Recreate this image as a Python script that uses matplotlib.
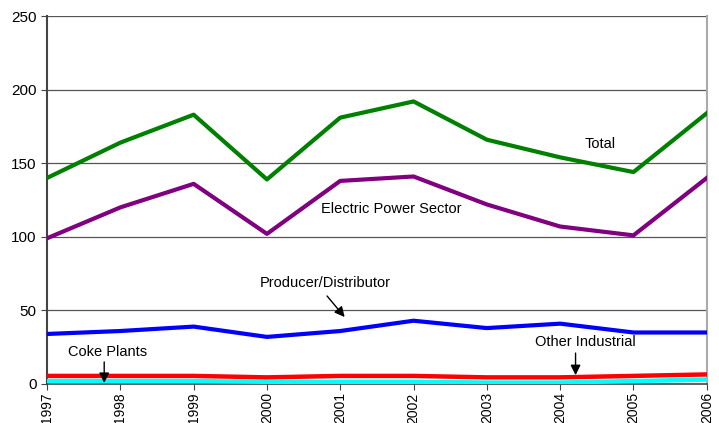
import matplotlib
matplotlib.use("Agg")
import matplotlib.pyplot as plt

years = [1997, 1998, 1999, 2000, 2001, 2002, 2003, 2004, 2005, 2006]
total = [140, 164, 183, 139, 181, 192, 166, 154, 144, 184]
electric_power = [99, 120, 136, 102, 138, 141, 122, 107, 101, 140]
producer_distributor = [34, 36, 39, 32, 36, 43, 38, 41, 35, 35]
other_industrial = [5.5, 5.5, 5.5, 4.5, 5.5, 5.5, 4.5, 4.5, 5.5, 6.5]
coke_plants = [2, 2, 2, 1.5, 1.5, 1.5, 1, 1, 2, 3]

plt.rcParams['font.family'] = ['Liberation Sans', 'DejaVu Sans']

fig = plt.figure(figsize=(7.19, 4.23), dpi=100)
ax = fig.add_axes([0.0654, 0.0922, 0.9176, 0.8698])

for y in [50, 100, 150, 200, 250]:
    ax.axhline(y, color='#555555', lw=0.9, zorder=1)

ax.plot(years, coke_plants, color='#00ffff', lw=3.2, zorder=3)
ax.plot(years, other_industrial, color='#ff0000', lw=3.2, zorder=3)
ax.plot(years, producer_distributor, color='#0000ff', lw=3, zorder=3)
ax.plot(years, electric_power, color='#800080', lw=3, zorder=3)
ax.plot(years, total, color='#008000', lw=3, zorder=3)

ax.set_xlim(1997, 2006)
ax.set_ylim(0, 250)
ax.set_yticks([0, 50, 100, 150, 200, 250])
ax.set_xticks(years)
ax.set_xticklabels([str(y) for y in years], rotation=90, fontsize=10)
ax.tick_params(axis='y', labelsize=11, direction='out', length=4, color='#444444')
ax.tick_params(axis='x', direction='out', length=4, color='#444444', pad=2)

ax.spines['left'].set_color('#444444')
ax.spines['left'].set_linewidth(1.5)
ax.spines['bottom'].set_color('#444444')
ax.spines['bottom'].set_linewidth(1.2)
ax.spines['right'].set_color('#aaaaaa')
ax.spines['right'].set_linewidth(1.5)
ax.spines['top'].set_visible(False)

ax.text(2004.55, 163, 'Total', fontsize=10.5, ha='center', va='center')
ax.text(2000.74, 119, 'Electric Power Sector', fontsize=10.5, ha='left', va='center')
ax.text(2000.79, 68.6, 'Producer/Distributor', fontsize=10.5, ha='center', va='center')
ax.text(1997.83, 21.7, 'Coke Plants', fontsize=10.5, ha='center', va='center')
ax.text(2004.34, 28.5, 'Other Industrial', fontsize=10.5, ha='center', va='center')

arrow = dict(arrowstyle='-|>', color='black', lw=1, mutation_scale=15,
             shrinkA=0, shrinkB=0)
ax.annotate('', xy=(2001.06, 45.5), xytext=(2000.82, 59.8), arrowprops=arrow)
ax.annotate('', xy=(1997.78, 0.7), xytext=(1997.78, 15), arrowprops=arrow)
ax.annotate('', xy=(2004.21, 6), xytext=(2004.21, 21), arrowprops=arrow)

fig.savefig('out.png', dpi=100)
